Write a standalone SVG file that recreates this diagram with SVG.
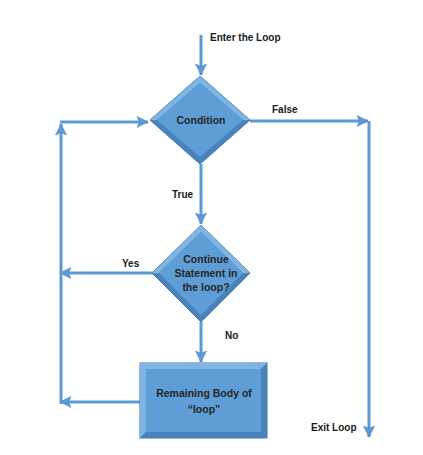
<svg xmlns="http://www.w3.org/2000/svg" width="423" height="455" viewBox="0 0 423 455">
<style>
.ln{fill:none;stroke:#5B9BD5;stroke-width:3}
.lbl{font-family:"Liberation Sans",Arial,sans-serif;font-weight:bold;font-size:10px;fill:#1a1a1a}
.nt{font-family:"Liberation Sans",Arial,sans-serif;font-weight:bold;font-size:10.5px;fill:#262626;text-anchor:middle}
.out{fill:#4F88C2;stroke:#41719C;stroke-width:1}
.lt{fill:#80B4E2}
.dk{fill:#4A82BA}
.in{fill:#5E9DD6}
</style>
<defs>
<marker id="ah" markerUnits="userSpaceOnUse" markerWidth="12" markerHeight="12" viewBox="0 0 12 12" refX="11" refY="6" orient="auto">
<path d="M0,0.5 L11,6 L0,11.5 L2.5,6 Z" fill="#5B9BD5" stroke="#4A86C5" stroke-width="0.6"/>
</marker>
</defs>
<rect width="423" height="455" fill="#ffffff"/>
<g id="connectors">
<path class="ln" d="M201,35 V75" marker-end="url(#ah)"/>
<path class="ln" d="M250,121 H368" marker-end="url(#ah)"/>
<path class="ln" d="M369,121 V437" marker-end="url(#ah)"/>
<path class="ln" d="M201,164 V224" marker-end="url(#ah)"/>
<path class="ln" d="M153,273 H60" marker-end="url(#ah)"/>
<path class="ln" d="M201,322 V362" marker-end="url(#ah)"/>
<path class="ln" d="M140,402 H60" marker-end="url(#ah)"/>
<path class="ln" d="M61,404 V124" marker-end="url(#ah)"/>
<path class="ln" d="M60,122 H148" marker-end="url(#ah)"/>
</g>
<g id="condition">
<polygon class="out" points="200,76 250,120 200,164 150,120"/>
<polygon class="lt" points="200,76 250,120 243,120 200,83 157,120 150,120"/>
<polygon class="dk" points="150,120 157,120 200,157 243,120 250,120 200,164"/>
<polygon class="in" points="200,83 243,120 200,157 157,120"/>
<text class="nt" x="201" y="124">Condition</text>
</g>
<g id="continue">
<polygon class="out" points="201,225 250,273 201,322 152,273"/>
<polygon class="lt" points="201,225 250,273 243,273 201,232 159,273 152,273"/>
<polygon class="dk" points="152,273 159,273 201,315 243,273 250,273 201,322"/>
<polygon class="in" points="201,232 243,273 201,315 159,273"/>
<text class="nt" x="206" y="263" font-size="11">Continue</text>
<text class="nt" x="206" y="277" font-size="11">Statement in</text>
<text class="nt" x="206" y="291" font-size="11">the loop?</text>
</g>
<g id="body">
<rect class="out" x="140" y="363" width="127" height="75"/>
<polygon class="lt" points="140,363 267,363 261,369 146,369 146,432 140,438"/>
<polygon class="dk" points="267,363 267,438 140,438 146,432 261,432 261,369"/>
<rect class="in" x="146" y="369" width="115" height="63"/>
<text class="nt" x="204" y="397">Remaining Body of</text>
<text class="nt" x="204" y="413">“loop”</text>
</g>
<g id="labels">
<text class="lbl" x="210" y="41">Enter the Loop</text>
<text class="lbl" x="272" y="113">False</text>
<text class="lbl" x="172" y="198">True</text>
<text class="lbl" x="122" y="267">Yes</text>
<text class="lbl" x="225" y="339">No</text>
<text class="lbl" x="311" y="431">Exit Loop</text>
</g>
</svg>
